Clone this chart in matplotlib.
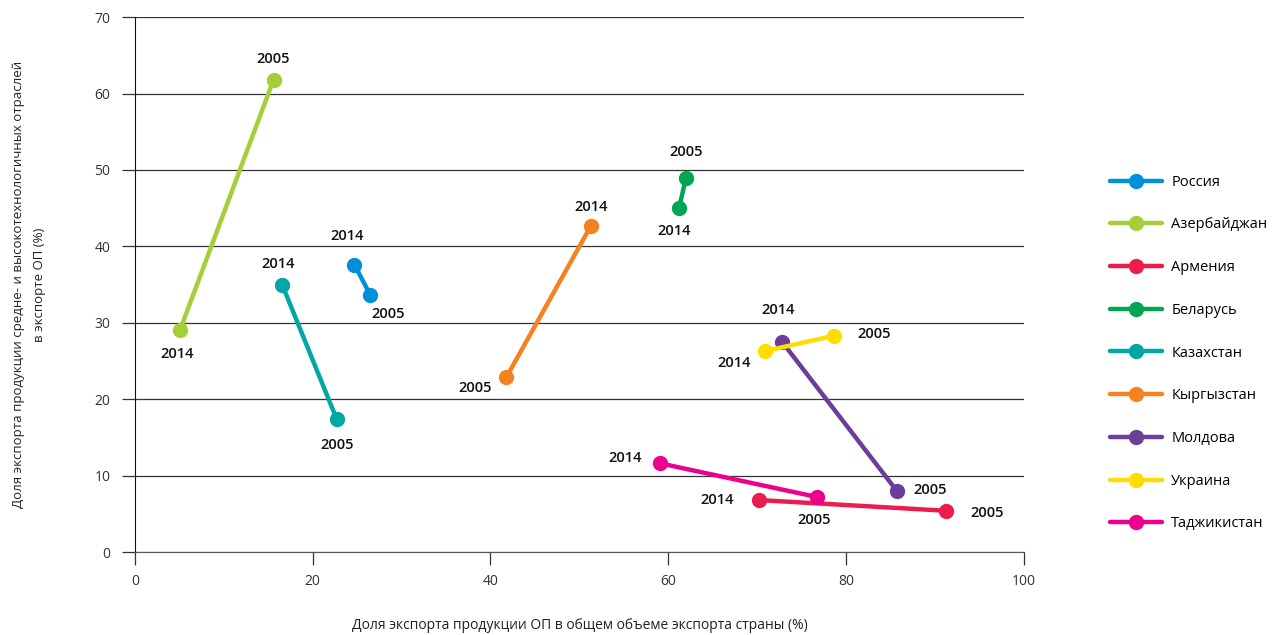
import matplotlib.pyplot as plt

plt.rcParams['font.family'] = ['Open Sans', 'DejaVu Sans']

countries = ['Россия', 'Азербайджан', 'Армения', 'Беларусь', 'Казахстан',
             'Кыргызстан', 'Молдова', 'Украина', 'Таджикистан']
colors = ['#0090DA', '#A6CE39', '#EE1B4F', '#00A651', '#00A7A6',
          '#F58220', '#6B3E99', '#FFDD00', '#EC008C']
# (2014, 2005)
x_2014 = [24.7, 5.1, 70.2, 61.2, 16.6, 51.3, 72.8, 70.9, 59.1]
y_2014 = [37.6, 29.1, 6.8, 45.0, 34.9, 42.7, 27.5, 26.3, 11.6]
x_2005 = [26.5, 15.6, 91.2, 62.0, 22.7, 41.8, 85.7, 78.6, 76.7]
y_2005 = [33.6, 61.8, 5.4, 49.0, 17.4, 22.9, 8.0, 28.3, 7.2]
# label offsets in pixels
off_2014 = [(-7, 29), (-3, -24), (-42, 0), (-5, -23), (-4, 21),
            (0, 19), (-4, 32), (-31, -12), (-35, 5)]
off_2005 = [(18, -19), (0, 21), (41, -2), (0, 26), (0, -26),
            (-31, -11), (33, 1), (40, 2), (-3, -23)]

fig = plt.figure(figsize=(12.72, 6.35), dpi=100)
ax = fig.add_axes([0.106, 0.1307, 0.699, 0.8423])

for i, c in enumerate(countries):
    ax.plot([x_2014[i], x_2005[i]], [y_2014[i], y_2005[i]], color=colors[i],
            lw=3.2, marker='o', ms=10, label=c, zorder=3 + i, solid_capstyle='round')
    ax.annotate('2014', (x_2014[i], y_2014[i]), xytext=off_2014[i], textcoords='offset pixels',
                ha='center', va='center', fontsize=10.5, fontweight='semibold', color='#111111')
    ax.annotate('2005', (x_2005[i], y_2005[i]), xytext=off_2005[i], textcoords='offset pixels',
                ha='center', va='center', fontsize=10.5, fontweight='semibold', color='#111111')

ax.set_xlim(0, 100)
ax.set_ylim(0, 70)
ax.set_xticks(range(0, 101, 20))
ax.set_yticks(range(0, 71, 10))
ax.grid(axis='y', color='#333333', lw=0.9)
ax.set_axisbelow(True)
for s in ['top', 'right']:
    ax.spines[s].set_visible(False)
ax.spines['bottom'].set_color('#555555')
ax.spines['left'].set_color('#111111')
ax.tick_params(axis='y', length=9.5, width=0.9, labelsize=10, pad=8, colors='#333333')
ax.tick_params(axis='x', length=9.5, width=0.9, labelsize=10, pad=6, colors='#333333')

ax.set_xlabel('Доля экспорта продукции ОП в общем объеме экспорта страны (%)',
              fontsize=10, color='#222222', labelpad=21)
ax.set_ylabel('Доля экспорта продукции средне- и высокотехнологичных отраслей\nв экспорте ОП (%)',
              fontsize=9.5, color='#222222', labelpad=35, linespacing=1.75)

ax.legend(loc='upper left', bbox_to_anchor=(1.082, 0.73), frameon=False, fontsize=10.5,
          handlelength=3.6, labelspacing=1.9, handletextpad=0.6)

fig.savefig('out.png', dpi=100)
